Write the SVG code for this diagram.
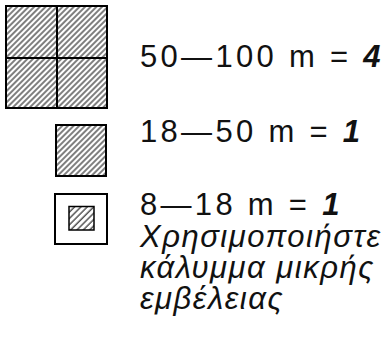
<svg xmlns="http://www.w3.org/2000/svg" width="386" height="340" viewBox="0 0 386 340">
<defs>
<pattern id="hatch" patternUnits="userSpaceOnUse" width="4" height="4" patternTransform="rotate(45)">
<line x1="1" y1="0" x2="1" y2="4" stroke="#000" stroke-width="1"/>
</pattern>
<pattern id="hatch2" patternUnits="userSpaceOnUse" width="4.5" height="4.5" patternTransform="rotate(45)">
<line x1="1" y1="0" x2="1" y2="4.5" stroke="#000" stroke-width="1"/>
</pattern>
<style>
.box{stroke:#000;stroke-width:2;}
.t{font-family:"Liberation Sans",Arial,sans-serif;font-size:31px;fill:#111;}
.d{letter-spacing:3.3px;}
.g{font-style:italic;letter-spacing:1.5px;}
.n{font-weight:bold;font-style:italic;}
</style>
</defs>
<g id="large">
<rect class="box" x="6" y="6" width="101" height="102" fill="url(#hatch)"/>
<line class="box" x1="57" y1="6" x2="57" y2="108"/>
<line class="box" x1="6" y1="58" x2="107" y2="58"/>
</g>
<g id="medium">
<rect class="box" x="56" y="125" width="50" height="51" fill="url(#hatch)"/>
</g>
<g id="small">
<rect class="box" x="55" y="194" width="52" height="50" fill="#fff"/>
<rect x="69" y="206.5" width="25" height="23.5" fill="url(#hatch2)" stroke="#000" stroke-width="1.5"/>
</g>
<g id="labels">
<text class="t d" x="140" y="67">50—100 m = <tspan class="n">4</tspan></text>
<text class="t d" x="140" y="142">18—50 m = <tspan class="n">1</tspan></text>
<text class="t d" x="140" y="215">8—18 m = <tspan class="n">1</tspan></text>
<text class="t g" x="140" y="247">Χρησιμοποιήστε</text>
<text class="t g" x="140" y="278">κάλυμμα μικρής</text>
<text class="t g" x="140" y="309">εμβέλειας</text>
</g>
</svg>
